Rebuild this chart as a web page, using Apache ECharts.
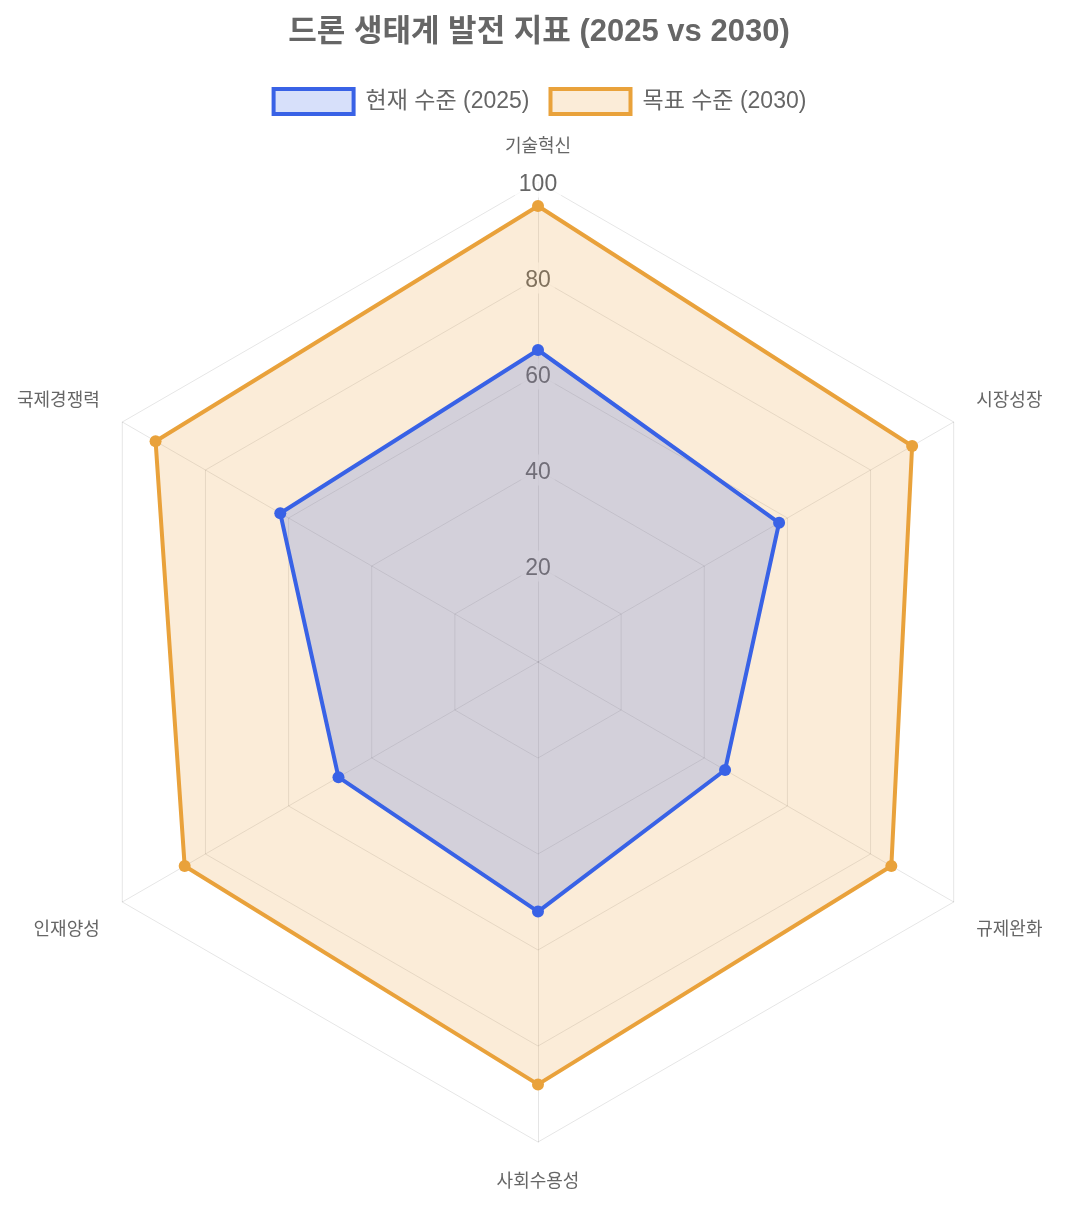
<!DOCTYPE html>
<html>
<head>
<meta charset="utf-8">
<script src="https://cdn.jsdelivr.net/npm/echarts@6/dist/echarts.min.js"></script>
<style>
html,body{margin:0;padding:0;background:#fff;}
#chart{width:1078px;height:1206px;}
</style>
</head>
<body>
<div id="chart"></div>
<script>
// Categories in clockwise order starting from the top
const categories = ['기술혁신', '시장성장', '규제완화', '사회수용성', '인재양성', '국제경쟁력'];
const current2025 = [65, 58, 45, 52, 48, 62];
const target2030 = [95, 90, 85, 88, 85, 92];
const seriesNames = ['현재 수준 (2025)', '목표 수준 (2030)'];
const tickValues = [0, 20, 40, 60, 80, 100];

const FONT = 'Helvetica, Arial, "Liberation Sans", "Noto Sans CJK KR", sans-serif';
const BLUE = '#3962e6';
const ORANGE = '#e9a23b';
const BLUE_FILL = 'rgba(57,98,230,0.2)';
const ORANGE_FILL = 'rgba(233,162,59,0.2)';

// ECharts lays radar indicators counter-clockwise; reorder to keep clockwise layout
const order = [0, 5, 4, 3, 2, 1];
const reorder = arr => order.map(i => arr[i]);

// label position style key per category (clockwise index)
const posKey = ['top', 'up', 'low', 'bottom', 'low', 'up'];

const chart = echarts.init(document.getElementById('chart'), null, {renderer: 'canvas'});
chart.setOption({
  backgroundColor: '#fff',
  animation: false,
  title: {
    text: '드론 생태계 발전 지표 (2025 vs 2030)',
    left: 'center',
    top: 17,
    padding: 0,
    textStyle: {fontFamily: FONT, fontSize: 31, fontWeight: 'bold', color: '#666'}
  },
  legend: {
    top: 82,
    left: 'center',
    icon: 'rect',
    itemWidth: 80,
    itemHeight: 25,
    itemGap: 19,
    textStyle: {fontFamily: FONT, fontSize: 23, color: '#666', padding: [0, 0, 0, 7]},
    data: [
      {name: seriesNames[0], itemStyle: {color: BLUE_FILL, borderColor: BLUE, borderWidth: 4}},
      {name: seriesNames[1], itemStyle: {color: ORANGE_FILL, borderColor: ORANGE, borderWidth: 4}}
    ]
  },
  radar: {
    center: [538, 662],
    radius: 480,
    startAngle: 90,
    shape: 'polygon',
    splitNumber: tickValues.length - 1,
    nameGap: 26,
    axisName: {
      color: '#666',
      fontSize: 18,
      fontFamily: FONT,
      formatter: function (name) {
        const k = posKey[categories.indexOf(name)];
        return '{' + k + '|' + name + '}';
      },
      rich: {
        top: {color: '#666', fontSize: 18, fontFamily: FONT},
        bottom: {color: '#666', fontSize: 18, fontFamily: FONT, padding: [5, 0, 0, 0]},
        up: {color: '#666', fontSize: 18, fontFamily: FONT, padding: [0, 0, 15, 0]},
        low: {color: '#666', fontSize: 18, fontFamily: FONT, padding: [31, 0, 0, 0]}
      }
    },
    splitLine: {lineStyle: {color: 'rgba(0,0,0,0.1)', width: 1}},
    splitArea: {show: false},
    axisLine: {lineStyle: {color: 'rgba(0,0,0,0.1)', width: 1}},
    axisTick: {show: false},
    axisLabel: {show: false},
    indicator: reorder(categories).map((name, i) => {
      const ind = {name: name, min: tickValues[0], max: tickValues[tickValues.length - 1]};
      if (i === 0) {
        ind.axisLabel = {
          show: true,
          showMinLabel: false,
          margin: 0,
          align: 'center',
          verticalAlign: 'middle',
          formatter: function (v) { return '{v|' + v + '}'; },
          rich: {
            v: {
              color: '#666',
              fontSize: 23,
              fontFamily: FONT,
              padding: [7, 4, 1, 4],
              backgroundColor: 'rgba(255,255,255,0.75)'
            }
          }
        };
      }
      return ind;
    })
  },
  series: [
    {
      type: 'radar',
      name: seriesNames[1],
      z: 2,
      symbol: 'circle',
      symbolSize: 12,
      lineStyle: {width: 4, color: ORANGE},
      itemStyle: {color: ORANGE},
      areaStyle: {color: ORANGE_FILL, opacity: 1},
      data: [{name: seriesNames[1], value: reorder(target2030)}]
    },
    {
      type: 'radar',
      name: seriesNames[0],
      z: 3,
      symbol: 'circle',
      symbolSize: 12,
      lineStyle: {width: 4, color: BLUE},
      itemStyle: {color: BLUE},
      areaStyle: {color: BLUE_FILL, opacity: 1},
      data: [{name: seriesNames[0], value: reorder(current2025)}]
    }
  ]
});
</script>
</body>
</html>
